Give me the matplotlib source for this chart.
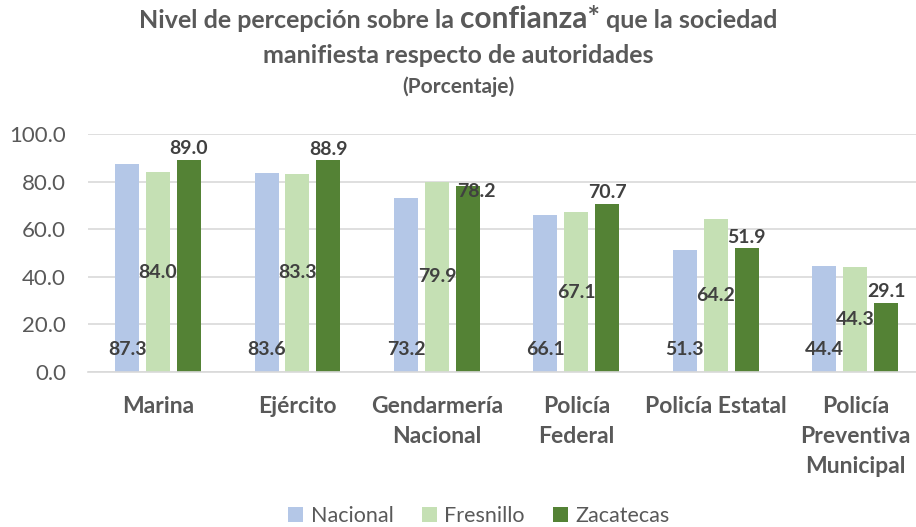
import matplotlib
matplotlib.use("Agg")
import matplotlib.pyplot as plt
from matplotlib.patches import Patch
import numpy as np

categories = ["Marina", "Ejército", "Gendarmería\nNacional", "Policía\nFederal",
              "Policía Estatal", "Policía\nPreventiva\nMunicipal"]
nacional = [87.3, 83.6, 73.2, 66.1, 51.3, 44.4]
fresnillo = [84.0, 83.3, 79.9, 67.1, 64.2, 44.3]
zacatecas = [89.0, 88.9, 78.2, 70.7, 51.9, 29.1]
series_names = ["Nacional", "Fresnillo", "Zacatecas"]
yticks = [0, 20, 40, 60, 80, 100]

colors = ["#B4C7E7", "#C5E0B4", "#548235"]
txt_dark = "#404040"
txt_gray = "#595959"
plt.rcParams['font.family'] = ['Lato', 'DejaVu Sans']

W, H = 916, 527
fig = plt.figure(figsize=(W / 100, H / 100), dpi=100)
ax = fig.add_axes([88.3 / W, (H - 372) / H, 1 - 88.3 / W, (372 - 134) / H])

x = np.arange(len(categories))
bw = 0.172
off = 0.222
ax.bar(x - off, nacional, bw, color=colors[0], zorder=2)
ax.bar(x, fresnillo, bw, color=colors[1], zorder=2)
ax.bar(x + off, zacatecas, bw, color=colors[2], zorder=2)

ax.set_ylim(0, 100)
ax.set_xlim(-0.5, 5.435)
ax.set_yticks(yticks)
ax.set_yticklabels([f"{v:.1f}" for v in yticks])
ax.yaxis.grid(True, color="#D9D9D9", linewidth=1.2, zorder=0)
ax.set_axisbelow(True)
for s in ["top", "right", "left"]:
    ax.spines[s].set_visible(False)
ax.spines["bottom"].set_color("#D9D9D9")
ax.spines["bottom"].set_linewidth(1.2)
ax.tick_params(axis="y", length=0, pad=16, labelsize=16, labelcolor=txt_gray)
ax.tick_params(axis="x", length=0, pad=17)
ax.set_xticks(x)
ax.set_xticklabels(categories, fontsize=16.5, fontweight="bold", color=txt_gray,
                   linespacing=1.55, va="top")

lab_kw = dict(fontsize=14, fontweight="bold", color=txt_dark, ha="center",
              textcoords="offset points")
for i in range(len(categories)):
    ax.annotate(f"{nacional[i]:.1f}", (x[i] - off, 0), xytext=(0, 16),
                va="center", **lab_kw)
    ax.annotate(f"{fresnillo[i]:.1f}", (x[i], fresnillo[i] / 2), xytext=(0, 0),
                va="center", **lab_kw)
    dx, dy = (6, -10) if i == 2 else (0, 2)
    ax.annotate(f"{zacatecas[i]:.1f}", (x[i] + off, zacatecas[i]), xytext=(dx, dy),
                va="bottom", **lab_kw)

# Title with mixed font sizes on first line
renderer = fig.canvas.get_renderer()
tsize = 18
tkw = dict(fontweight="bold", color=txt_gray, va="baseline", ha="left")
parts = [("Nivel de percepción sobre la", tsize), ("confianza*", 21.5),
         ("que la sociedad", tsize)]
objs = [fig.text(0, 0, p, fontsize=s, **tkw) for p, s in parts]
sp = fig.text(0, 0, "a a", fontsize=tsize, **tkw)
sp2 = fig.text(0, 0, "aa", fontsize=tsize, **tkw)
space = sp.get_window_extent(renderer).width - sp2.get_window_extent(renderer).width
sp.remove(); sp2.remove()
widths = [o.get_window_extent(renderer).width for o in objs]
total = sum(widths) + 2 * space
xpos = (W - total) / 2
base_y = (H - 28) / H
for o, w in zip(objs, widths):
    o.set_position((xpos / W, base_y))
    xpos += w + space
fig.text(0.5, (H - 63) / H, "manifiesta respecto de autoridades", fontsize=tsize,
         fontweight="bold", color=txt_gray, ha="center", va="baseline")
fig.text(0.5, (H - 93) / H, "(Porcentaje)", fontsize=15, fontweight="bold",
         color=txt_gray, ha="center", va="baseline")

handles = [Patch(facecolor=c, edgecolor="none") for c in colors]
fig.legend(handles, series_names, loc="center", bbox_to_anchor=(479 / W, (H - 516) / H),
           ncol=3, frameon=False, fontsize=15.5, labelcolor=txt_gray,
           handlelength=0.7, handleheight=0.7, handletextpad=0.35, columnspacing=1.3)

fig.savefig("out.png", dpi=100)
